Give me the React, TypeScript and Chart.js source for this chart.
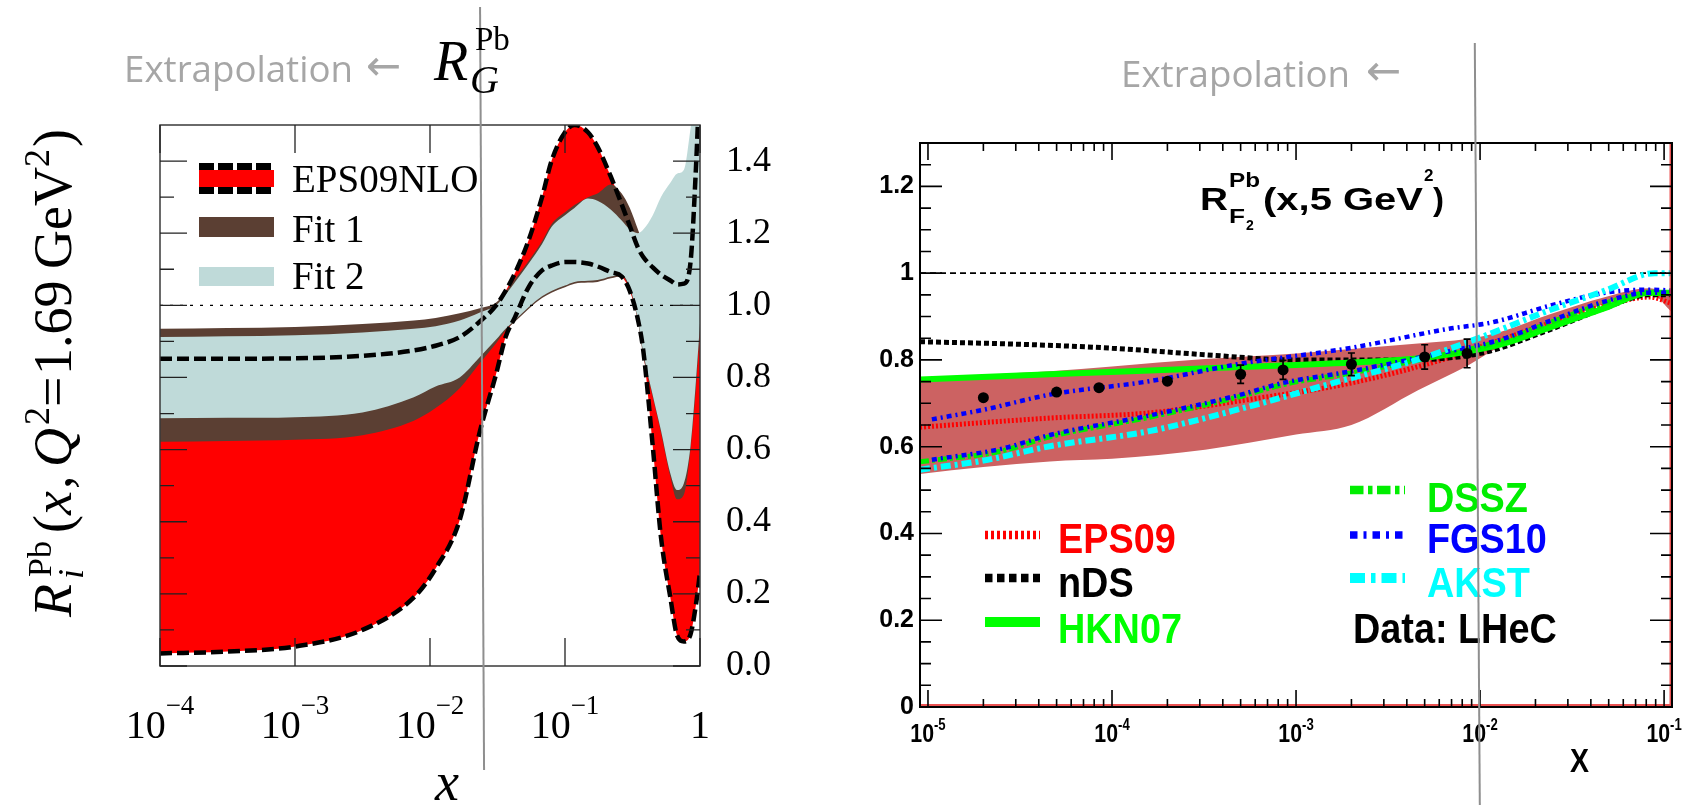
import React, { useEffect, useRef } from 'react';
import { Chart, registerables } from 'chart.js';

Chart.register(...registerables);

// ---------------- Left panel: R_G^Pb(x, Q^2 = 1.69 GeV^2) ----------------
const leftX = [0.0001, 0.000316, 0.001, 0.00316, 0.00759, 0.011, 0.0166, 0.0234, 0.0309, 0.0363, 0.0427, 0.0537, 0.0676, 0.0794, 0.1, 0.1175, 0.148, 0.174, 0.219, 0.263, 0.302, 0.347, 0.38, 0.447, 0.513, 0.603, 0.676, 0.759, 0.851, 0.933, 1.0];
const eps09Upper = [0.852, 0.852, 0.853, 0.86, 0.875, 0.888, 0.912, 0.955, 1.0, 1.04, 1.09, 1.18, 1.3, 1.4, 1.48, 1.5, 1.48, 1.44, 1.356, 1.28, 1.22, 1.16, 1.134, 1.105, 1.085, 1.069, 1.058, 1.06, 1.12, 1.38, 1.65];
const eps09Lower = [0.035, 0.04, 0.054, 0.1, 0.19, 0.27, 0.405, 0.65, 0.81, 0.912, 0.968, 1.05, 1.097, 1.11, 1.12, 1.12, 1.116, 1.108, 1.092, 1.08, 1.04, 0.96, 0.875, 0.608, 0.36, 0.19, 0.085, 0.068, 0.088, 0.17, 0.26];
const fit1Upper = [0.935, 0.937, 0.94, 0.948, 0.958, 0.965, 0.978, 0.992, 1.008, 1.038, 1.073, 1.123, 1.178, 1.225, 1.258, 1.278, 1.3, 1.31, 1.335, 1.31, 1.27, 1.21, 1.17, 1.12, 1.1, 1.08, 1.08, 1.1, 1.2, 1.3, 1.35];
const fit1Lower = [0.622, 0.624, 0.627, 0.64, 0.68, 0.715, 0.77, 0.84, 0.895, 0.93, 0.955, 0.99, 1.02, 1.035, 1.05, 1.06, 1.063, 1.065, 1.075, 1.08, 1.045, 0.955, 0.86, 0.745, 0.648, 0.525, 0.462, 0.475, 0.6, 0.77, 0.93];
const fit2Upper = [0.912, 0.914, 0.917, 0.925, 0.935, 0.942, 0.958, 0.98, 1.0, 1.03, 1.065, 1.115, 1.17, 1.217, 1.25, 1.27, 1.296, 1.29, 1.265, 1.235, 1.21, 1.2, 1.21, 1.25, 1.3, 1.34, 1.365, 1.375, 1.49, 1.6, 1.6];
const fit2Lower = [0.687, 0.688, 0.69, 0.703, 0.745, 0.775, 0.8, 0.857, 0.905, 0.935, 0.96, 0.995, 1.025, 1.04, 1.055, 1.065, 1.068, 1.07, 1.08, 1.085, 1.05, 0.96, 0.87, 0.75, 0.654, 0.534, 0.488, 0.506, 0.61, 0.79, 0.95];
const leftYTicks = [0, 0.2, 0.4, 0.6, 0.8, 1.0, 1.2, 1.4];
const leftYMinor = [0.1, 0.3, 0.5, 0.7, 0.9, 1.1, 1.3];
const leftXTicks = [1e-4, 1e-3, 1e-2, 1e-1, 1];
const leftBoundaryX = 0.0243;

// ---------------- Right panel: R_F2^Pb(x, 5 GeV^2) ----------------
const bandX = [9.05e-6, 2.0e-5, 4.6e-5, 1.0e-4, 3.2e-4, 1.0e-3, 2.0e-3, 4.6e-3, 8.5e-3, 0.013, 0.024, 0.048, 0.083, 0.1104];
const bandUpper = [0.75, 0.765, 0.774, 0.785, 0.802, 0.815, 0.825, 0.838, 0.848, 0.865, 0.905, 0.945, 0.965, 0.95];
const bandLower = [0.537, 0.553, 0.566, 0.572, 0.593, 0.628, 0.65, 0.73, 0.786, 0.832, 0.878, 0.93, 0.955, 0.91];
const eps09X = [9.05e-6, 4.6e-5, 1.6e-4, 5.6e-4, 2.0e-3, 6.3e-3, 0.0104, 0.024, 0.048, 0.083, 0.1104];
const eps09Y = [0.645, 0.666, 0.678, 0.709, 0.747, 0.801, 0.832, 0.885, 0.925, 0.945, 0.93];
const ndsX = [9.05e-6, 3.2e-5, 1e-4, 3.2e-4, 1e-3, 3.2e-3, 0.01, 0.024, 0.048, 0.083, 0.1104];
const ndsY = [0.842, 0.836, 0.827, 0.812, 0.8, 0.8, 0.815, 0.87, 0.92, 0.95, 0.95];
const hknX = [9.05e-6, 4.6e-5, 3.9e-4, 2.0e-3, 5.0e-3, 0.013, 0.024, 0.048, 0.083, 0.1104];
const hknY = [0.755, 0.767, 0.782, 0.794, 0.805, 0.836, 0.875, 0.92, 0.955, 0.955];
const dsszX = [9.05e-6, 2.5e-5, 4.6e-5, 1.6e-4, 4.8e-4, 8.5e-4, 2.0e-3, 6.8e-3, 0.013, 0.024, 0.048, 0.083, 0.1104];
const dsszY = [0.565, 0.59, 0.623, 0.668, 0.714, 0.743, 0.77, 0.815, 0.843, 0.886, 0.931, 0.953, 0.953];
const fgsHiX = [1.05e-5, 2.0e-5, 4.6e-5, 1.6e-4, 4.8e-4, 2.0e-3, 6.8e-3, 0.0115, 0.024, 0.048, 0.083, 0.1104];
const fgsHiY = [0.663, 0.685, 0.72, 0.751, 0.79, 0.828, 0.872, 0.886, 0.925, 0.955, 0.962, 0.96];
const fgsLoX = [1.05e-5, 2.5e-5, 4.6e-5, 1.6e-4, 4.8e-4, 8.5e-4, 2.0e-3, 6.8e-3, 0.013, 0.024, 0.048, 0.083, 0.1104];
const fgsLoY = [0.57, 0.595, 0.627, 0.672, 0.718, 0.747, 0.774, 0.82, 0.847, 0.89, 0.935, 0.955, 0.955];
const akstX = [9.05e-6, 2.0e-5, 4.6e-5, 1.6e-4, 5.6e-4, 1.6e-3, 4.6e-3, 0.0105, 0.024, 0.048, 0.089, 0.1104];
const akstY = [0.547, 0.568, 0.601, 0.636, 0.693, 0.747, 0.801, 0.855, 0.915, 0.96, 1.0, 1.0];
const lhecX = [2e-5, 5e-5, 8.5e-5, 2e-4, 5e-4, 8.5e-4, 2e-3, 5e-3, 8.5e-3];
const lhecY = [0.713, 0.726, 0.736, 0.751, 0.767, 0.777, 0.79, 0.807, 0.815];
const lhecErr = [0.004, 0.004, 0.004, 0.005, 0.021, 0.022, 0.026, 0.028, 0.033];
const rightYTicks = [0, 0.2, 0.4, 0.6, 0.8, 1, 1.2];
const rightBoundaryX = 0.0096;

const SERIF = "'Liberation Serif', 'Times New Roman', serif";
const SANS = "'Liberation Sans', Arial, sans-serif";

const pts = (xs: number[], ys: number[]) => xs.map((x, i) => ({ x, y: ys[i] }));

function drawPower(ctx: any, px: number, base: number, exp: number, baseFont: string, expFont: string, rise: number, sx: number, minus: string) {
  ctx.save();
  ctx.fillStyle = '#000';
  ctx.textBaseline = 'alphabetic';
  ctx.textAlign = 'left';
  if (exp === 0) {
    ctx.font = baseFont;
    const w = ctx.measureText('1').width * sx;
    ctx.translate(px - w / 2, base);
    ctx.scale(sx, 1);
    ctx.fillText('1', 0, 0);
    ctx.restore();
    return;
  }
  const expStr = (exp < 0 ? minus : '') + Math.abs(exp);
  ctx.font = baseFont;
  const w1 = ctx.measureText('10').width * sx;
  ctx.font = expFont;
  const w2 = ctx.measureText(expStr).width * sx;
  const start = px - (w1 + w2) / 2;
  ctx.font = baseFont;
  ctx.save();
  ctx.translate(start, base);
  ctx.scale(sx, 1);
  ctx.fillText('10', 0, 0);
  ctx.restore();
  ctx.font = expFont;
  ctx.translate(start + w1, base - rise);
  ctx.scale(sx, 1);
  ctx.fillText(expStr, 0, 0);
  ctx.restore();
}

const leftDecor = {
  id: 'leftDecor',
  afterDatasetsDraw(chart: any) {
    const { ctx, chartArea: a, scales } = chart;
    const y1 = scales.y.getPixelForValue(1);
    ctx.save();
    ctx.strokeStyle = '#000';
    ctx.lineWidth = 1.3;
    ctx.setLineDash([3, 7]);
    ctx.beginPath();
    ctx.moveTo(a.left, y1);
    ctx.lineTo(a.right, y1);
    ctx.stroke();
    ctx.restore();
  },
  afterDraw(chart: any) {
    const { ctx, chartArea: a, scales } = chart;
    const xs = scales.x, ys = scales.y;
    ctx.save();
    ctx.strokeStyle = '#3a3a3a';
    ctx.lineWidth = 1.5;
    ctx.strokeRect(a.left, a.top, a.right - a.left, a.bottom - a.top);
    ctx.strokeStyle = '#222';
    ctx.lineWidth = 1.3;
    ctx.beginPath();
    leftXTicks.forEach((v) => {
      const px = xs.getPixelForValue(v);
      ctx.moveTo(px, a.bottom); ctx.lineTo(px, a.bottom - 28);
      ctx.moveTo(px, a.top); ctx.lineTo(px, a.top + 28);
    });
    leftYTicks.forEach((v) => {
      const py = ys.getPixelForValue(v);
      ctx.moveTo(a.left, py); ctx.lineTo(a.left + 27, py);
      ctx.moveTo(a.right, py); ctx.lineTo(a.right - 27, py);
    });
    leftYMinor.forEach((v) => {
      const py = ys.getPixelForValue(v);
      ctx.moveTo(a.left, py); ctx.lineTo(a.left + 14, py);
      ctx.moveTo(a.right, py); ctx.lineTo(a.right - 14, py);
    });
    ctx.stroke();
    ctx.restore();
    leftXTicks.forEach((v) => {
      drawPower(ctx, xs.getPixelForValue(v), 738, Math.round(Math.log10(v)), `40px ${SERIF}`, `27px ${SERIF}`, 24, 1, '\u2212');
    });
    const ds = chart.data.datasets;
    const sx0 = 199, sw = 75;
    ctx.save();
    ctx.fillStyle = ds[0].backgroundColor;
    ctx.fillRect(sx0, 170, sw, 17);
    ctx.strokeStyle = ds[6].borderColor;
    ctx.lineWidth = 7;
    ctx.setLineDash([15, 4]);
    ctx.beginPath();
    ctx.moveTo(sx0, 166.5); ctx.lineTo(sx0 + sw, 166.5);
    ctx.moveTo(sx0, 190.5); ctx.lineTo(sx0 + sw, 190.5);
    ctx.stroke();
    ctx.setLineDash([]);
    ctx.fillStyle = ds[2].backgroundColor;
    ctx.fillRect(sx0, 217, sw, 20);
    ctx.fillStyle = ds[4].backgroundColor;
    ctx.fillRect(sx0, 267, sw, 19);
    ctx.fillStyle = '#000';
    ctx.font = `39px ${SERIF}`;
    ctx.textAlign = 'left';
    ctx.textBaseline = 'alphabetic';
    ctx.fillText(ds[0].label, 292, 192);
    ctx.fillText(ds[2].label, 292, 242);
    ctx.fillText(ds[4].label, 292, 289);
    ctx.restore();
    const bx = xs.getPixelForValue(leftBoundaryX);
    ctx.save();
    ctx.strokeStyle = '#8f8f8f';
    ctx.lineWidth = 2;
    ctx.beginPath();
    ctx.moveTo(bx - 2, 7);
    ctx.lineTo(bx + 2, 770);
    ctx.stroke();
    ctx.restore();
  },
};

const rightDecor = {
  id: 'rightDecor',
  beforeDatasetsDraw(chart: any) {
    const { ctx, chartArea: a, scales } = chart;
    const y1 = scales.y.getPixelForValue(1);
    ctx.save();
    ctx.strokeStyle = '#000';
    ctx.lineWidth = 1.6;
    ctx.setLineDash([6, 4]);
    ctx.beginPath();
    ctx.moveTo(a.left, y1);
    ctx.lineTo(a.right, y1);
    ctx.stroke();
    ctx.restore();
  },
  afterDatasetsDraw(chart: any) {
    const { ctx, scales } = chart;
    ctx.save();
    ctx.strokeStyle = '#000';
    ctx.lineWidth = 1.7;
    ctx.beginPath();
    lhecX.forEach((xv, i) => {
      if (lhecErr[i] < 0.01) return;
      const px = scales.x.getPixelForValue(xv);
      const top = scales.y.getPixelForValue(lhecY[i] + lhecErr[i]);
      const bot = scales.y.getPixelForValue(lhecY[i] - lhecErr[i]);
      ctx.moveTo(px, top); ctx.lineTo(px, bot);
      ctx.moveTo(px - 3.5, top); ctx.lineTo(px + 3.5, top);
      ctx.moveTo(px - 3.5, bot); ctx.lineTo(px + 3.5, bot);
    });
    ctx.stroke();
    ctx.restore();
  },
  afterDraw(chart: any) {
    const { ctx, chartArea: a, scales } = chart;
    const xs = scales.x, ys = scales.y;
    ctx.save();
    ctx.strokeStyle = 'rgba(230,40,40,0.8)';
    ctx.lineWidth = 2;
    ctx.beginPath();
    ctx.moveTo(a.left, a.bottom - 2); ctx.lineTo(a.right, a.bottom - 2);
    ctx.moveTo(a.right - 1.5, a.top); ctx.lineTo(a.right - 1.5, a.bottom);
    ctx.stroke();
    ctx.strokeStyle = '#000';
    ctx.lineWidth = 2;
    ctx.strokeRect(a.left, a.top, a.right - a.left, a.bottom - a.top);
    ctx.lineWidth = 1.6;
    ctx.beginPath();
    const xmin = xs.min, xmax = xs.max;
    for (let e = -6; e <= 0; e++) {
      for (let k = 1; k < 10; k++) {
        const v = k * Math.pow(10, e);
        if (v < xmin || v > xmax) continue;
        const px = xs.getPixelForValue(v);
        const len = k === 1 ? 17 : 8;
        ctx.moveTo(px, a.bottom); ctx.lineTo(px, a.bottom - len);
        ctx.moveTo(px, a.top); ctx.lineTo(px, a.top + len);
      }
    }
    for (let i = 0; i <= 26; i++) {
      const v = i * 0.05;
      const py = ys.getPixelForValue(v);
      const len = i % 4 === 0 ? 22 : 11;
      ctx.moveTo(a.left, py); ctx.lineTo(a.left + len, py);
      ctx.moveTo(a.right, py); ctx.lineTo(a.right - len, py);
    }
    ctx.stroke();
    ctx.restore();
    for (let e = -5; e <= -1; e++) {
      drawPower(ctx, xs.getPixelForValue(Math.pow(10, e)), 742, e, `bold 26px ${SANS}`, `bold 16px ${SANS}`, 12, 0.82, '-');
    }
    const ds = chart.data.datasets;
    const entries = [
      { d: ds[2], sx: 205, sy: 535, tx: 278, ty: 553 },
      { d: ds[3], sx: 205, sy: 578, tx: 278, ty: 597 },
      { d: ds[4], sx: 205, sy: 622, tx: 278, ty: 643 },
      { d: ds[5], sx: 570, sy: 490, tx: 647, ty: 512 },
      { d: ds[6], sx: 570, sy: 535, tx: 647, ty: 553 },
      { d: ds[8], sx: 570, sy: 578, tx: 647, ty: 597 },
    ];
    entries.forEach((en) => {
      ctx.save();
      ctx.strokeStyle = en.d.borderColor;
      ctx.lineWidth = en.d.borderWidth * 1.7;
      ctx.setLineDash((en.d.borderDash || []).map((v: number) => v * 1.5));
      ctx.beginPath();
      ctx.moveTo(en.sx, en.sy);
      ctx.lineTo(en.sx + 55, en.sy);
      ctx.stroke();
      ctx.restore();
      ctx.save();
      ctx.fillStyle = en.d.borderColor;
      ctx.font = `bold 42px ${SANS}`;
      ctx.textBaseline = 'alphabetic';
      ctx.translate(en.tx, en.ty);
      ctx.scale(0.9, 1);
      ctx.fillText(en.d.label, 0, 0);
      ctx.restore();
    });
    ctx.save();
    ctx.fillStyle = '#000';
    ctx.font = `bold 42px ${SANS}`;
    ctx.translate(573, 643);
    ctx.scale(0.9, 1);
    ctx.fillText(ds[9].label, 0, 0);
    ctx.restore();
    const bx = xs.getPixelForValue(rightBoundaryX);
    ctx.save();
    ctx.strokeStyle = '#8f8f8f';
    ctx.lineWidth = 2;
    ctx.beginPath();
    ctx.moveTo(bx - 2, 43);
    ctx.lineTo(bx + 3, 805);
    ctx.stroke();
    ctx.restore();
  },
};

function leftConfig(): any {
  const band = (label: string, data: any, color: string, fill: any, order: number) => ({
    label, data, borderWidth: 0, pointRadius: 0, backgroundColor: color, borderColor: color, fill, order,
    cubicInterpolationMode: 'monotone',
  });
  const dashed = (label: string, data: any) => ({
    label, data, borderColor: '#000', borderWidth: 4.5, borderDash: [12, 5], pointRadius: 0, fill: false, order: 1,
    cubicInterpolationMode: 'monotone',
  });
  return {
    type: 'line',
    data: {
      datasets: [
        band('EPS09NLO', pts(leftX, eps09Upper), '#ff0000', '+1', 4),
        band('EPS09NLO lower', pts(leftX, eps09Lower), '#ff0000', false, 4),
        band('Fit 1', pts(leftX, fit1Upper), '#5b3f33', '+1', 3),
        band('Fit 1 lower', pts(leftX, fit1Lower), '#5b3f33', false, 3),
        band('Fit 2', pts(leftX, fit2Upper), '#bfdad9', '+1', 2),
        band('Fit 2 lower', pts(leftX, fit2Lower), '#bfdad9', false, 2),
        dashed('EPS09NLO upper edge', pts(leftX, eps09Upper)),
        dashed('EPS09NLO lower edge', pts(leftX, eps09Lower)),
      ],
    },
    options: {
      responsive: false,
      animation: false,
      devicePixelRatio: 1,
      layout: { padding: { left: 160, right: 0, top: 125, bottom: 139 } },
      plugins: { legend: { display: false }, tooltip: { enabled: false } },
      scales: {
        x: { type: 'logarithmic', min: 1e-4, max: 1, display: false },
        y: {
          type: 'linear', position: 'right', min: 0, max: 1.5,
          afterBuildTicks: (s: any) => { s.ticks = leftYTicks.map((v) => ({ value: v })); },
          afterFit: (s: any) => { s.width = 80; },
          grid: { display: false, drawTicks: false },
          border: { display: false },
          ticks: {
            padding: 26, color: '#000',
            font: { family: SERIF, size: 36 },
            callback: (v: any) => Number(v).toFixed(1),
          },
        },
      },
    },
    plugins: [leftDecor],
  };
}

function rightConfig(): any {
  const line = (label: string, data: any, color: string, width: number, dash: number[], order: number) => ({
    label, data, borderColor: color, backgroundColor: color, borderWidth: width, borderDash: dash,
    pointRadius: 0, fill: false, order, cubicInterpolationMode: 'monotone',
  });
  return {
    type: 'line',
    data: {
      datasets: [
        { label: 'EPS09 band', data: pts(bandX, bandUpper), borderWidth: 0, pointRadius: 0, backgroundColor: '#cc6262', borderColor: '#cc6262', fill: '+1', order: 10, cubicInterpolationMode: 'monotone' },
        { label: 'EPS09 band lower', data: pts(bandX, bandLower), borderWidth: 0, pointRadius: 0, backgroundColor: '#cc6262', borderColor: '#cc6262', fill: false, order: 10, cubicInterpolationMode: 'monotone' },
        line('EPS09', pts(eps09X, eps09Y), '#ff0000', 5, [2, 2], 9),
        line('nDS', pts(ndsX, ndsY), '#000000', 5, [5, 3], 8),
        line('HKN07', pts(hknX, hknY), '#00ff00', 6, [], 7),
        line('DSSZ', pts(dsszX, dsszY), '#00ee00', 5, [9, 3, 3, 3], 6),
        line('FGS10', pts(fgsHiX, fgsHiY), '#0000ff', 4.5, [5, 4, 2, 4], 5),
        line('FGS10 (2)', pts(fgsLoX, fgsLoY), '#0000ff', 4.5, [5, 4, 2, 4], 5),
        line('AKST', pts(akstX, akstY), '#00ffff', 6, [10, 4, 3, 4], 4),
        { label: 'Data: LHeC', data: pts(lhecX, lhecY), showLine: false, pointRadius: 5.5, pointBackgroundColor: '#000', pointBorderColor: '#000', pointBorderWidth: 0, borderColor: '#000', order: 1 },
      ],
    },
    options: {
      responsive: false,
      animation: false,
      devicePixelRatio: 1,
      layout: { padding: { left: 0, right: 24, top: 143, bottom: 98 } },
      plugins: { legend: { display: false }, tooltip: { enabled: false } },
      scales: {
        x: { type: 'logarithmic', min: 9.05e-6, max: 0.1104, display: false },
        y: {
          type: 'linear', position: 'left', min: 0, max: 1.3,
          afterBuildTicks: (s: any) => { s.ticks = rightYTicks.map((v) => ({ value: v })); },
          afterFit: (s: any) => { s.width = 140; },
          grid: { display: false, drawTicks: false },
          border: { display: false },
          ticks: {
            padding: 6, color: '#000',
            font: { family: "'Liberation Sans Narrow', 'Arial Narrow', 'Liberation Sans', sans-serif", size: 25, weight: 'bold' },
            callback: (v: any) => String(Math.round(Number(v) * 10) / 10),
          },
        },
      },
    },
    plugins: [rightDecor],
  };
}

export default function App() {
  const leftRef = useRef<HTMLCanvasElement>(null);
  const rightRef = useRef<HTMLCanvasElement>(null);
  useEffect(() => {
    document.body.style.margin = '0';
    const lc = new Chart(leftRef.current as any, leftConfig());
    const rc = new Chart(rightRef.current as any, rightConfig());
    return () => { lc.destroy(); rc.destroy(); };
  }, []);
  const grey = '#a6a6a6';
  return (
    <div style={{ position: 'absolute', left: 0, top: 0, width: 1696, height: 805, overflow: 'hidden', background: '#fff' }}>
      <canvas ref={leftRef} width={780} height={805} style={{ position: 'absolute', left: 0, top: 0 }} />
      <canvas ref={rightRef} width={916} height={805} style={{ position: 'absolute', left: 780, top: 0 }} />
      <svg width={1696} height={805} style={{ position: 'absolute', left: 0, top: 0, pointerEvents: 'none' }}>
        <text fill={grey} fontFamily="'Open Sans', sans-serif" fontSize={36}>
          <tspan x={124} y={82} textLength={229} lengthAdjust="spacingAndGlyphs">Extrapolation</tspan>
          <tspan x={366} y={80} fontFamily="'DejaVu Sans', sans-serif" fontSize={42}>←</tspan>
        </text>
        <text fill={grey} fontFamily="'Open Sans', sans-serif" fontSize={36}>
          <tspan x={1121} y={87} textLength={229} lengthAdjust="spacingAndGlyphs">Extrapolation</tspan>
          <tspan x={1366} y={85} fontFamily="'DejaVu Sans', sans-serif" fontSize={42}>←</tspan>
        </text>
        <text fontFamily={SERIF} fill="#000">
          <tspan x={434} y={80} fontSize={56} fontStyle="italic">R</tspan>
          <tspan x={475} y={50} fontSize={33}>Pb</tspan>
          <tspan x={470} y={93} fontSize={40} fontStyle="italic">G</tspan>
        </text>
        <text transform="translate(71,617) rotate(-90)" fontFamily={SERIF} fill="#000" fontSize={54}>
          <tspan x={0} y={0} fontStyle="italic">R</tspan>
          <tspan x={40} y={-20} fontSize={34}>Pb</tspan>
          <tspan x={38} y={12} fontSize={36} fontStyle="italic">i</tspan>
          <tspan x={84} y={0}>(</tspan>
          <tspan x={102} y={0} fontStyle="italic">x</tspan>
          <tspan x={128} y={0}>,</tspan>
          <tspan x={150} y={0} fontStyle="italic">Q</tspan>
          <tspan x={192} y={-22} fontSize={36}>2</tspan>
          <tspan x={210} y={0}>=</tspan>
          <tspan x={242} y={0}>1.69</tspan>
          <tspan x={348} y={0}>GeV</tspan>
          <tspan x={450} y={-22} fontSize={36}>2</tspan>
          <tspan x={470} y={0}>)</tspan>
        </text>
        <text x={447} y={800} textAnchor="middle" fontFamily={SERIF} fontStyle="italic" fontSize={54} fill="#000">x</text>
        <text fontFamily={SANS} fontWeight="bold" fill="#000">
          <tspan x={1200} y={210} fontSize={31} textLength={28} lengthAdjust="spacingAndGlyphs">R</tspan>
          <tspan x={1229} y={187} fontSize={21} textLength={31} lengthAdjust="spacingAndGlyphs">Pb</tspan>
          <tspan x={1229} y={223} fontSize={21} textLength={16} lengthAdjust="spacingAndGlyphs">F</tspan>
          <tspan x={1246} y={230} fontSize={14}>2</tspan>
          <tspan x={1263} y={210} fontSize={31} textLength={160} lengthAdjust="spacingAndGlyphs">(x,5 GeV</tspan>
          <tspan x={1424} y={181} fontSize={17}>2</tspan>
          <tspan x={1433} y={210} fontSize={31} textLength={11} lengthAdjust="spacingAndGlyphs">)</tspan>
        </text>
        <text x={1570} y={772} fontFamily={SANS} fontWeight="bold" fontSize={33} textLength={19} lengthAdjust="spacingAndGlyphs" fill="#000">X</text>
      </svg>
    </div>
  );
}
